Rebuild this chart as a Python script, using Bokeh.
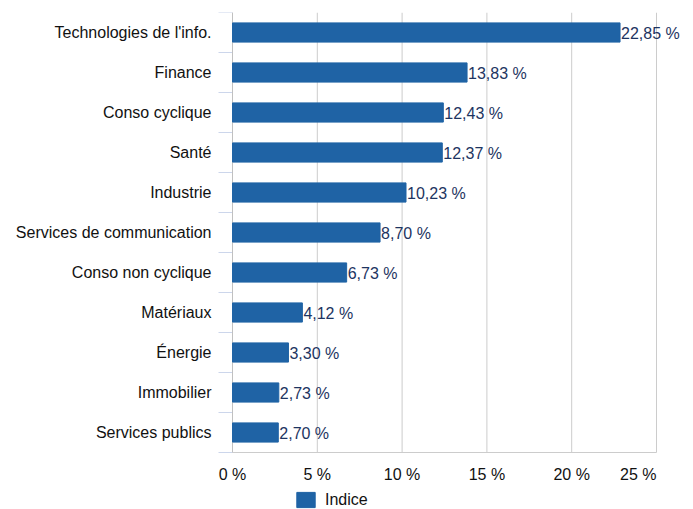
from bokeh.plotting import figure
from bokeh.models import (ColumnDataSource, Range1d, FixedTicker, LabelSet, Legend, LegendItem)
from bokeh.core.properties import value
from bokeh.embed import file_html
from bokeh.resources import INLINE

categories = ["Technologies de l'info.", "Finance", "Conso cyclique", "Santé", "Industrie",
              "Services de communication", "Conso non cyclique", "Matériaux", "Énergie",
              "Immobilier", "Services publics"]
values = [22.85, 13.83, 12.43, 12.37, 10.23, 8.70, 6.73, 4.12, 3.30, 2.73, 2.70]
series_name = "Indice"
x_ticks = [0, 5, 10, 15, 20, 25]

FONT = "Liberation Sans"
BAR = "#1f63a5"
W, H = 693, 509
LEFT, TOP = 215, 12          # frame starts 17px left of the zero line
ZERO_PX = 232                # screen x of the 0 % line
PX_PER_CAT = 40.0            # band height in pixels
PX_PER_PCT = 16.96           # pixels per percent
TICK_PX = 14                 # length of category separator ticks

n = len(categories)
x_start = -(ZERO_PX - LEFT) / PX_PER_PCT
x_end = x_start + (W - LEFT) / PX_PER_PCT
y_end = (H - TOP) / PX_PER_CAT
tick_x0 = -TICK_PX / PX_PER_PCT

pos = [i + 0.5 for i in range(n)]
labels = [f"{v:.2f} %".replace(".", ",") for v in values]
src = ColumnDataSource(dict(y=pos, v=values, lab=labels, cat=categories))

p = figure(width=W, height=H, output_backend="svg", toolbar_location=None,
           x_range=Range1d(x_start, x_end), y_range=Range1d(y_end, 0), x_axis_location=None,
           min_border_left=LEFT, min_border_right=0, min_border_top=TOP, min_border_bottom=0)
p.outline_line_color = None
p.background_fill_color = "white"
p.border_fill_color = "white"
for g in p.grid:
    g.visible = False

# vertical grid lines and bottom baseline, from the tick values
p.segment(x0=x_ticks, y0=[0] * len(x_ticks), x1=x_ticks, y1=[n] * len(x_ticks),
          line_color="#cccccc", line_width=1)
p.segment(x0=[x_ticks[0]], y0=[n], x1=[x_ticks[-1]], y1=[n], line_color="#cccccc", line_width=1)

# category axis line and separator ticks between categories
edges = list(range(n + 1))
p.segment(x0=[tick_x0] * len(edges), y0=edges, x1=[0] * len(edges), y1=edges,
          line_color="#ccd6eb", line_width=1)
p.segment(x0=[0], y0=[0], x1=[0], y1=[n], line_color="#c0c0c0", line_width=1)

r = p.hbar(y="y", right="v", left=0, height=0.48, source=src, color=BAR, line_color=BAR)

p.add_layout(LabelSet(x="v", y="y", text="lab", source=src, x_offset=1, y_offset=-1,
                      text_baseline="middle", text_align="left", text_font=value(FONT),
                      text_font_size="16px", text_color="#1d3461"))

# x tick labels (last one right-aligned to stay inside the plot like the original)
xsrc = ColumnDataSource(dict(
    x=x_ticks,
    y=[n + 22 / PX_PER_CAT] * len(x_ticks),
    t=[f"{t} %" for t in x_ticks],
    al=["center" if t != x_ticks[-1] else "right" for t in x_ticks],
))
p.text(x="x", y="y", text="t", source=xsrc, text_align="al", text_baseline="middle",
       text_font=value(FONT), text_font_size="16px", text_color="#111111")

# y axis: labels only (line and ticks drawn above)
yax = p.yaxis[0]
yax.bounds = (0, n)
yax.ticker = FixedTicker(ticks=pos)
yax.major_label_overrides = {pv: c for pv, c in zip(pos, categories)}
yax.axis_line_color = None
yax.major_tick_line_color = None
yax.minor_tick_line_color = None
yax.major_tick_out = 0
yax.major_tick_in = 0
yax.minor_tick_out = 0
yax.minor_tick_in = 0
yax.major_label_standoff = 4
yax.major_label_text_font = FONT
yax.major_label_text_font_size = "16px"
yax.major_label_text_color = "#111111"

legend = Legend(items=[LegendItem(label=series_name, renderers=[r])], location=(79, 0),
                orientation="horizontal", margin=0, padding=0, glyph_width=23, glyph_height=19,
                label_height=19, label_text_font=FONT, label_text_font_size="16px",
                label_text_color="#111111", label_standoff=8, border_line_color=None,
                background_fill_alpha=0)
p.add_layout(legend)

open("out.html", "w").write(file_html(p, INLINE))
